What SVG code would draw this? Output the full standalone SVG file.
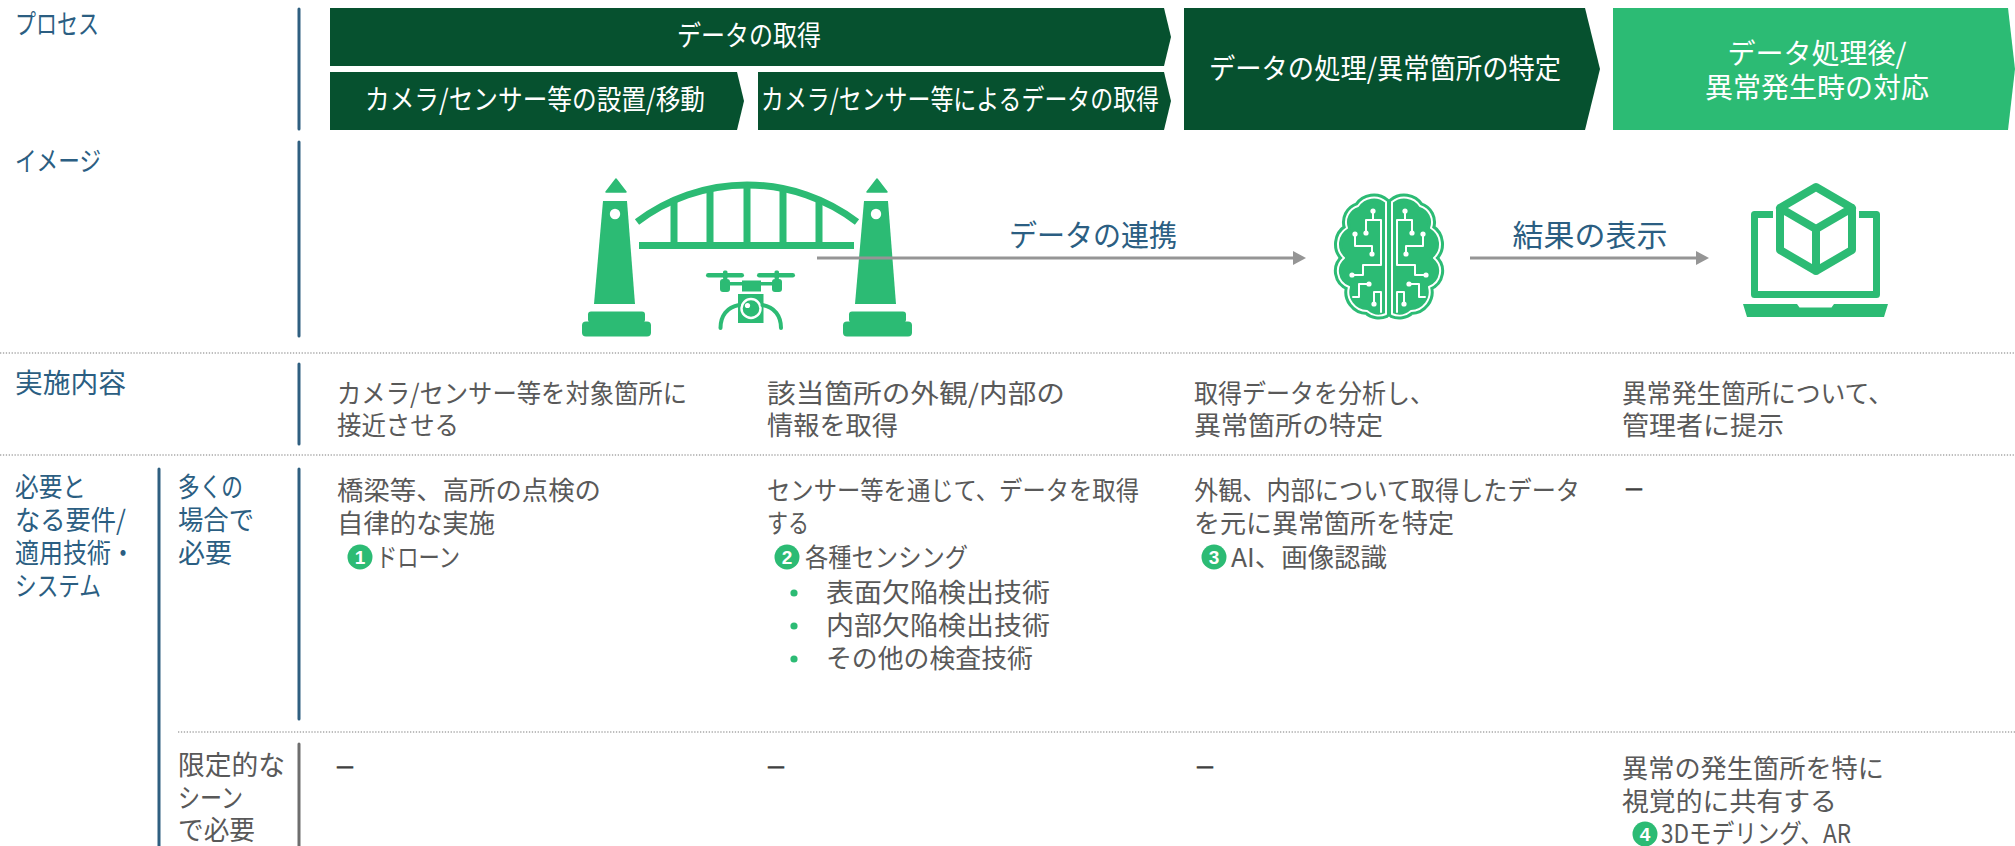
<svg xmlns="http://www.w3.org/2000/svg" xmlns:xlink="http://www.w3.org/1999/xlink" width="2015" height="846" viewBox="0 0 2015 846">
  <defs>
    <style>
      text { font-family: "Noto Sans CJK JP", "Noto Sans", sans-serif; }
      .lbl { font-size: 27px; fill: #2B5E82; }
      .lbl-g { font-size: 27px; fill: #595959; }
      .body { font-size: 26px; fill: #595959; }
      .dash { font-size: 20px; font-weight: bold; fill: #404040; stroke: #404040; stroke-width: 1.3; }
      .hdr { font-size: 28px; fill: #ffffff; }
      .mid { text-anchor: middle; }
      .flow { font-size: 30px; fill: #2B5E82; text-anchor: middle; }
      .num { font-family: "Liberation Sans", "Noto Sans", sans-serif; font-size: 19px; font-weight: bold; fill: #ffffff; text-anchor: middle; }
      .vline { stroke: #2F5F80; stroke-width: 3; stroke-linecap: round; fill: none; }
      .vline-g { stroke: #6E6E6E; stroke-width: 3; stroke-linecap: round; fill: none; }
      .dots { stroke: #A8A8A8; stroke-width: 1.3; stroke-dasharray: 1.3 1.6; fill: none; }
      .dark { fill: #06512F; }
      .light { fill: #2CBB74; }
      .icon { fill: #2CBB74; }
      .ln { stroke: #959595; stroke-width: 3; fill: none; }
      .circ { fill: none; stroke: #ffffff; stroke-width: 2; stroke-linecap: round; stroke-linejoin: round; }
    </style>
    <marker id="head" viewBox="0 0 13 14" refX="0" refY="7" markerWidth="13" markerHeight="14" markerUnits="userSpaceOnUse" orient="auto">
      <path d="M0,0 L13,7 L0,14 Z" fill="#959595"/>
    </marker>
    <circle id="bdot" r="2.6" fill="#ffffff"/>
    <!-- one brain hemisphere with its circuit traces -->
    <g id="hemi">
      <path d="M1386,202 A19,19 0 0 0 1358,206 A17,17 0 0 0 1347,228 A19,19 0 0 0 1344,258 A17,17 0 0 0 1349,287 A19,19 0 0 0 1367,311 A18,18 0 0 0 1386,314 Z" fill="#2CBB74" stroke="#2CBB74" stroke-width="8" stroke-linejoin="round"/>
      <path d="M1386,202 A19,19 0 0 0 1358,206 A17,17 0 0 0 1347,228 A19,19 0 0 0 1344,258 A17,17 0 0 0 1349,287 A19,19 0 0 0 1367,311 A18,18 0 0 0 1386,314 Z" fill="none" stroke="#ffffff" stroke-width="2" stroke-linejoin="round"/>
      <path class="circ" d="M1366,233 V220 H1381 V265 H1363 V275 H1353"/>
      <path class="circ" d="M1373,211 V220"/>
      <path class="circ" d="M1355,234 V246 H1372 V254"/>
      <path class="circ" d="M1369,284 H1359 V297 H1353"/>
      <path class="circ" d="M1374,304 V292 H1381 V312"/>
      <use xlink:href="#bdot" x="1366" y="233"/>
      <use xlink:href="#bdot" x="1373" y="211"/>
      <use xlink:href="#bdot" x="1352" y="275"/>
      <use xlink:href="#bdot" x="1355" y="234"/>
      <use xlink:href="#bdot" x="1372" y="254"/>
      <use xlink:href="#bdot" x="1369" y="284"/>
      <use xlink:href="#bdot" x="1374" y="304"/>
    </g>
    <!-- bridge tower -->
    <g id="tower">
      <path d="M616,179 L626,192 H606 Z" stroke="#2CBB74" stroke-width="1.5" stroke-linejoin="round"/>
      <path d="M603,201 H627 L635,304 H594 Z"/>
      <rect x="588" y="311.5" width="57" height="11" rx="3"/>
      <rect x="582" y="321.5" width="69" height="15" rx="4"/>
    </g>
  </defs>

  <rect width="2015" height="846" fill="#ffffff"/>

  <!-- row labels -->
  <g id="labels">
    <text class="lbl" x="15" y="34" textLength="84" lengthAdjust="spacingAndGlyphs">プロセス</text>
    <text class="lbl" x="15" y="171" textLength="86" lengthAdjust="spacingAndGlyphs">イメージ</text>
    <text class="lbl" x="15" y="393" textLength="111" lengthAdjust="spacingAndGlyphs">実施内容</text>
    <text class="lbl" x="15" y="497" textLength="71" lengthAdjust="spacingAndGlyphs">必要と</text>
    <text class="lbl" x="15" y="530" textLength="111" lengthAdjust="spacingAndGlyphs">なる要件/</text>
    <text class="lbl" x="15" y="563" textLength="120" lengthAdjust="spacingAndGlyphs">適用技術・</text>
    <text class="lbl" x="15" y="596" textLength="86" lengthAdjust="spacingAndGlyphs">システム</text>
    <text class="lbl" x="178" y="497" textLength="65" lengthAdjust="spacingAndGlyphs">多くの</text>
    <text class="lbl" x="178" y="530" textLength="76" lengthAdjust="spacingAndGlyphs">場合で</text>
    <text class="lbl" x="178" y="563">必要</text>
    <text class="lbl-g" x="178" y="775" textLength="107" lengthAdjust="spacingAndGlyphs">限定的な</text>
    <text class="lbl-g" x="178" y="808" textLength="65" lengthAdjust="spacingAndGlyphs">シーン</text>
    <text class="lbl-g" x="178" y="840" textLength="77" lengthAdjust="spacingAndGlyphs">で必要</text>
  </g>

  <!-- grid rules -->
  <g id="rules">
    <line class="vline" x1="299" y1="9" x2="299" y2="129"/>
    <line class="vline" x1="299" y1="142" x2="299" y2="336"/>
    <line class="vline" x1="299" y1="364" x2="299" y2="444"/>
    <line class="vline" x1="299" y1="469" x2="299" y2="719"/>
    <line class="vline-g" x1="299" y1="744" x2="299" y2="850"/>
    <line class="vline" x1="159" y1="469" x2="159" y2="850"/>
    <line class="dots" x1="0" y1="353" x2="2015" y2="353"/>
    <line class="dots" x1="0" y1="455" x2="2015" y2="455"/>
    <line class="dots" x1="178" y1="732" x2="2015" y2="732"/>
  </g>

  <!-- process header -->
  <g id="step-acquire">
    <path class="dark" d="M330,8 H1164 L1171,37 L1164,66 H330 Z"/>
    <text class="hdr mid" x="749" y="46" textLength="144" lengthAdjust="spacingAndGlyphs">データの取得</text>
  </g>
  <g id="step-place">
    <path class="dark" d="M330,72 H737 L744,101 L737,130 H330 Z"/>
    <text class="hdr" x="365" y="110" textLength="340" lengthAdjust="spacingAndGlyphs">カメラ/センサー等の設置/移動</text>
  </g>
  <g id="step-sense">
    <path class="dark" d="M758,72 H1164 L1171,101 L1164,130 H758 Z"/>
    <text class="hdr" x="761" y="110" textLength="398" lengthAdjust="spacingAndGlyphs">カメラ/センサー等によるデータの取得</text>
  </g>
  <g id="step-process">
    <path class="dark" d="M1184,8 H1585 L1600,69 L1585,130 H1184 Z"/>
    <text class="hdr" x="1209" y="79" textLength="352" lengthAdjust="spacingAndGlyphs">データの処理/異常箇所の特定</text>
  </g>
  <g id="step-respond">
    <path class="light" d="M1613,8 H2008 L2015,69 L2008,130 H1613 Z"/>
    <text class="hdr mid" x="1817" y="64">データ処理後/</text>
    <text class="hdr mid" x="1817" y="98">異常発生時の対応</text>
  </g>

  <!-- image row: bridge with drone -->
  <g id="bridge" class="icon">
    <use xlink:href="#tower"/>
    <use xlink:href="#tower" x="261"/>
    <circle cx="615" cy="214" r="5.2" fill="#ffffff"/>
    <circle cx="876" cy="214" r="5.2" fill="#ffffff"/>
    <path d="M637,222 A182,182 0 0 1 857,222" fill="none" stroke="#2CBB74" stroke-width="7"/>
    <rect x="639" y="242" width="215" height="7"/>
    <rect x="670.5" y="198" width="7" height="46"/>
    <rect x="706.5" y="187" width="7" height="57"/>
    <rect x="743.5" y="184" width="7" height="60"/>
    <rect x="779.5" y="187" width="7" height="57"/>
    <rect x="815.5" y="198" width="7" height="46"/>
    <g id="drone">
      <rect x="706" y="273" width="38" height="4.6" rx="2.3"/>
      <rect x="757" y="273" width="38" height="4.6" rx="2.3"/>
      <rect x="723" y="270.5" width="4.5" height="9" rx="1.5"/>
      <rect x="774.5" y="270.5" width="4.5" height="9" rx="1.5"/>
      <rect x="720" y="279" width="10" height="13" rx="3"/>
      <rect x="772" y="279" width="10" height="13" rx="3"/>
      <rect x="728" y="282" width="46" height="3.5"/>
      <rect x="742" y="280.5" width="19" height="11"/>
      <rect x="738" y="294" width="25.5" height="29"/>
      <circle cx="751" cy="308.5" r="9.5" fill="none" stroke="#ffffff" stroke-width="2.4"/>
      <circle cx="747.5" cy="305.5" r="2.6" fill="#ffffff"/>
      <path d="M739,305 C727,307 720.5,316 720.5,328" fill="none" stroke="#2CBB74" stroke-width="4" stroke-linecap="round"/>
      <path d="M762.5,305 C774.5,307 781,316 781,328" fill="none" stroke="#2CBB74" stroke-width="4" stroke-linecap="round"/>
    </g>
  </g>

  <!-- image row: AI brain -->
  <g id="brain">
    <use xlink:href="#hemi"/>
    <use xlink:href="#hemi" transform="matrix(-1 0 0 1 2778 0)"/>
  </g>

  <!-- image row: laptop with cube -->
  <g id="laptop">
    <path d="M1773,214.5 H1754.5 V294.5 H1876.5 V214.5 H1859" fill="none" stroke="#2CBB74" stroke-width="7" stroke-linejoin="round"/>
    <path class="icon" d="M1743,304 H1797 L1799.5,307.5 H1831.5 L1834,304 H1888 L1884,317 H1747 Z"/>
    <path d="M1816,187 L1852,208 V250 L1816,271 L1780,250 V208 Z M1780,208 L1816,229 L1852,208 M1816,229 V271" fill="none" stroke="#2CBB74" stroke-width="8" stroke-linejoin="round" stroke-linecap="round"/>
  </g>

  <!-- flow between the image icons -->
  <g id="connectors">
    <line class="ln" x1="817" y1="258" x2="1293" y2="258" marker-end="url(#head)"/>
    <line class="ln" x1="1470" y1="258" x2="1696" y2="258" marker-end="url(#head)"/>
    <text class="flow" x="1093" y="246" textLength="168" lengthAdjust="spacingAndGlyphs">データの連携</text>
    <text class="flow" x="1590" y="246" textLength="155" lengthAdjust="spacingAndGlyphs">結果の表示</text>
  </g>

  <!-- 実施内容 row -->
  <g id="tasks">
    <text class="body" x="337" y="403" textLength="350" lengthAdjust="spacingAndGlyphs">カメラ/センサー等を対象箇所に</text>
    <text class="body" x="337" y="435" textLength="122" lengthAdjust="spacingAndGlyphs">接近させる</text>
    <text class="body" x="767" y="403" textLength="298" lengthAdjust="spacingAndGlyphs">該当箇所の外観/内部の</text>
    <text class="body" x="767" y="435" textLength="131" lengthAdjust="spacingAndGlyphs">情報を取得</text>
    <text class="body" x="1194" y="403" textLength="240" lengthAdjust="spacingAndGlyphs">取得データを分析し、</text>
    <text class="body" x="1194" y="435" textLength="189" lengthAdjust="spacingAndGlyphs">異常箇所の特定</text>
    <text class="body" x="1622" y="403" textLength="271" lengthAdjust="spacingAndGlyphs">異常発生箇所について、</text>
    <text class="body" x="1622" y="435" textLength="162" lengthAdjust="spacingAndGlyphs">管理者に提示</text>
  </g>

  <!-- requirements: common cases -->
  <g id="req-common">
    <text class="body" x="337" y="500" textLength="264" lengthAdjust="spacingAndGlyphs">橋梁等、高所の点検の</text>
    <text class="body" x="337" y="533" textLength="158" lengthAdjust="spacingAndGlyphs">自律的な実施</text>
    <circle class="light" cx="360" cy="557" r="12.5"/>
    <text class="num" x="360" y="564">1</text>
    <text class="body" x="376" y="567" textLength="84" lengthAdjust="spacingAndGlyphs">ドローン</text>

    <text class="body" x="767" y="500" textLength="372" lengthAdjust="spacingAndGlyphs">センサー等を通じて、データを取得</text>
    <text class="body" x="767" y="533" textLength="42" lengthAdjust="spacingAndGlyphs">する</text>
    <circle class="light" cx="787" cy="557" r="12.5"/>
    <text class="num" x="787" y="564">2</text>
    <text class="body" x="805" y="567" textLength="163" lengthAdjust="spacingAndGlyphs">各種センシング</text>
    <circle class="light" cx="794" cy="593" r="3.6"/>
    <circle class="light" cx="794" cy="626" r="3.6"/>
    <circle class="light" cx="794" cy="659" r="3.6"/>
    <text class="body" x="826" y="602" textLength="224" lengthAdjust="spacingAndGlyphs">表面欠陥検出技術</text>
    <text class="body" x="826" y="635" textLength="224" lengthAdjust="spacingAndGlyphs">内部欠陥検出技術</text>
    <text class="body" x="826" y="668" textLength="207" lengthAdjust="spacingAndGlyphs">その他の検査技術</text>

    <text class="body" x="1194" y="500" textLength="386" lengthAdjust="spacingAndGlyphs">外観、内部について取得したデータ</text>
    <text class="body" x="1194" y="533" textLength="260" lengthAdjust="spacingAndGlyphs">を元に異常箇所を特定</text>
    <circle class="light" cx="1214" cy="557" r="12.5"/>
    <text class="num" x="1214" y="564">3</text>
    <text class="body" x="1231" y="567" textLength="156" lengthAdjust="spacingAndGlyphs">AI、画像認識</text>

    <text class="dash" x="1625" y="497" textLength="18" lengthAdjust="spacingAndGlyphs">―</text>
  </g>

  <!-- requirements: limited scenes -->
  <g id="req-limited">
    <text class="dash" x="336" y="775" textLength="18" lengthAdjust="spacingAndGlyphs">―</text>
    <text class="dash" x="767" y="775" textLength="18" lengthAdjust="spacingAndGlyphs">―</text>
    <text class="dash" x="1196" y="775" textLength="18" lengthAdjust="spacingAndGlyphs">―</text>
    <text class="body" x="1622" y="778" textLength="262" lengthAdjust="spacingAndGlyphs">異常の発生箇所を特に</text>
    <text class="body" x="1622" y="811" textLength="215" lengthAdjust="spacingAndGlyphs">視覚的に共有する</text>
    <circle class="light" cx="1645" cy="834" r="12.5"/>
    <text class="num" x="1645" y="841">4</text>
    <text class="body" x="1661" y="843" textLength="190" lengthAdjust="spacingAndGlyphs">3Dモデリング、AR</text>
  </g>
</svg>
